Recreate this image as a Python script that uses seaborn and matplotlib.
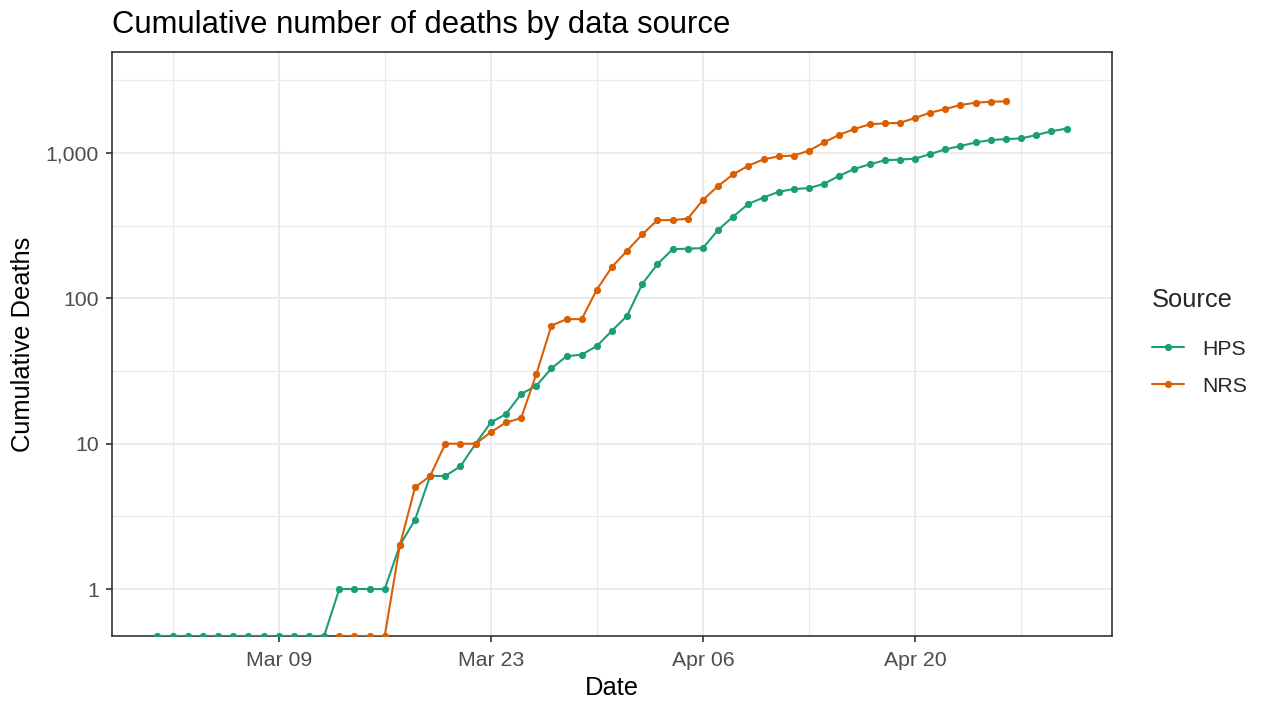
import numpy as np
import pandas as pd
import matplotlib
matplotlib.use("Agg")
import matplotlib.pyplot as plt
import matplotlib.dates as mdates
from matplotlib.ticker import FixedLocator, FuncFormatter, NullFormatter
import seaborn as sns

# Cumulative deaths reported by each source
hps_dates = pd.date_range("2020-03-01", "2020-04-30", freq="D")
hps_deaths = [0] * 12 + [
    1, 1, 1, 1, 2, 3, 6, 6, 7, 10, 14, 16, 22, 25, 33, 40, 41, 47, 60,
    76, 126, 172, 218, 220, 222, 296, 366, 447, 495, 542, 566, 575, 615,
    699, 779, 837, 893, 903, 915, 985, 1062, 1120, 1184, 1231, 1249, 1262,
    1332, 1415, 1475,
]

nrs_dates = pd.date_range("2020-03-13", "2020-04-26", freq="D")
nrs_deaths = [
    0, 0, 0, 0, 2, 5, 6, 10, 10, 10, 12, 14, 15, 30, 65, 72, 72, 115, 165,
    213, 276, 346, 346, 354, 476, 594, 715, 819, 906, 950, 962, 1040, 1186,
    1339, 1465, 1578, 1603, 1616, 1745, 1898, 2012, 2145, 2223, 2258, 2272,
]

sources = ["HPS", "NRS"]
palette = {"HPS": "#1B9E77", "NRS": "#D95F02"}

x_ticks = pd.to_datetime(["2020-03-09", "2020-03-23", "2020-04-06", "2020-04-20"])
x_minor = pd.to_datetime(["2020-03-02", "2020-03-16", "2020-03-30", "2020-04-13", "2020-04-27"])
y_ticks = [1, 10, 100, 1000]

Y_MIN, Y_MAX = 0.475, 4966

df = pd.concat([
    pd.DataFrame({"Date": hps_dates, "Deaths": hps_deaths, "Source": "HPS"}),
    pd.DataFrame({"Date": nrs_dates, "Deaths": nrs_deaths, "Source": "NRS"}),
], ignore_index=True)
# zero counts cannot sit on a log axis: pin them to the bottom edge
df["y"] = np.where(df["Deaths"] > 0, df["Deaths"], Y_MIN)

sns.set_style("white")
plt.rcParams["font.family"] = ["Liberation Sans", "DejaVu Sans"]

W, H = 1263, 702
fig = plt.figure(figsize=(W / 100, H / 100), dpi=100)
L, R, T, B = 112, 1112, 52, 636
ax = fig.add_axes([L / W, 1 - B / H, (R - L) / W, (B - T) / H])

sns.lineplot(
    data=df, x="Date", y="y", hue="Source", hue_order=sources,
    palette=palette, marker="o", markersize=5.2, markeredgewidth=0,
    linewidth=1.5, ax=ax, legend=True, zorder=3,
)

ax.set_yscale("log")
ax.set_ylim(Y_MIN, Y_MAX)
ax.set_xlim(pd.Timestamp("2020-02-27"), pd.Timestamp("2020-05-03"))

ax.yaxis.set_major_locator(FixedLocator(y_ticks))
ax.yaxis.set_major_formatter(FuncFormatter(lambda v, p: f"{v:,.0f}"))
ax.yaxis.set_minor_locator(FixedLocator([10 ** (k + 0.5) for k in range(-1, 4)]))
ax.yaxis.set_minor_formatter(NullFormatter())

ax.xaxis.set_major_locator(FixedLocator(mdates.date2num(x_ticks)))
ax.xaxis.set_major_formatter(mdates.DateFormatter("%b %d"))
ax.xaxis.set_minor_locator(FixedLocator(mdates.date2num(x_minor)))

ax.grid(which="major", color="#EBEBEB", linewidth=1.5, zorder=0)
ax.grid(which="minor", color="#EBEBEB", linewidth=0.8, zorder=0)
ax.set_axisbelow(True)

for s in ax.spines.values():
    s.set_color("#333333")
    s.set_linewidth(1.2)
    s.set_visible(True)

ax.tick_params(which="major", length=4, width=1.2, color="#333333",
               labelsize=15.3, labelcolor="#4D4D4D",
               bottom=True, left=True)
ax.tick_params(axis="x", which="major", pad=7)
ax.tick_params(axis="y", which="major", pad=5.5)
ax.tick_params(which="minor", length=0)

ax.set_xlabel("")
ax.set_ylabel("")
fig.text((L + R) / 2 / W, 1 - 695 / H, "Date", ha="center", va="baseline",
         fontsize=18.4, color="black")
fig.text(23 / W, 1 - (T + B) / 2 / H, "Cumulative Deaths", rotation=90,
         ha="center", va="center", fontsize=18.4, color="black")
fig.text(L / W, 1 - 33 / H, "Cumulative number of deaths by data source",
         ha="left", va="baseline", fontsize=22.3, color="black")

handles, labels = ax.get_legend_handles_labels()
ax.get_legend().remove()
leg = fig.legend(handles, labels, title="Source", loc="center left",
                 bbox_to_anchor=(1152 / W, 1 - 342 / H), frameon=False,
                 fontsize=15.3, title_fontsize=18.4, handlelength=1.5,
                 labelspacing=0.85, handletextpad=0.85, borderaxespad=0,
                 borderpad=0)
leg._legend_box.align = "left"
# extra room between the legend title and its entries
leg._legend_box.sep = 20

fig.savefig("out.png", dpi=100)
